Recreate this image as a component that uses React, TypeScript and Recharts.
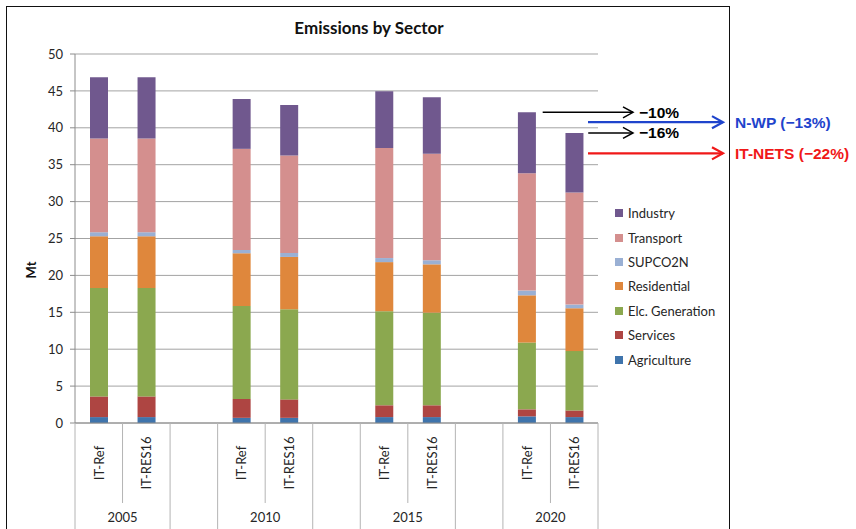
import React from 'react';
import { BarChart, Bar, XAxis, YAxis, CartesianGrid, ReferenceLine } from 'recharts';

// ---------- data ----------
const years = ['2005', '2010', '2015', '2020'];
const scenarios = ['IT-Ref', 'IT-RES16'];
// order of values: 2005 IT-Ref, 2005 IT-RES16, 2010 IT-Ref, 2010 IT-RES16, 2015 ..., 2020 ...
const agriculture = [0.8, 0.8, 0.7, 0.7, 0.8, 0.8, 0.9, 0.8];
const services = [2.8, 2.8, 2.55, 2.5, 1.6, 1.6, 0.95, 0.9];
const elcGeneration = [14.7, 14.7, 12.6, 12.2, 12.75, 12.55, 9.05, 8.05];
const residential = [7.0, 7.0, 7.15, 7.1, 6.65, 6.55, 6.4, 5.8];
const supco2n = [0.55, 0.55, 0.45, 0.55, 0.55, 0.55, 0.65, 0.5];
const transport = [12.7, 12.7, 13.7, 13.2, 14.9, 14.45, 15.9, 15.2];
const industry = [8.3, 8.3, 6.75, 6.85, 7.7, 7.65, 8.25, 8.05];
const yTicks = [0, 5, 10, 15, 20, 25, 30, 35, 40, 45, 50];
const targetNames = ['N-WP', 'IT-NETS'];
const targetPcts = [-13, -22];

const sectorNames = ['Agriculture', 'Services', 'Elc. Generation', 'Residential', 'SUPCO2N', 'Transport', 'Industry'];
const sectorValues = [agriculture, services, elcGeneration, residential, supco2n, transport, industry];

// ---------- styles ----------
const sectorColors = ['#3f74ac', '#ae4542', '#8ba84f', '#df873c', '#9ab0d4', '#d48f8e', '#70588e'];
const targetColors = ['#1f44cc', '#f01818'];
const FONT = 'Lato, "Noto Sans", sans-serif';
const ARIAL = '"Liberation Sans", Arial, sans-serif';

const W = 856;
const H = 529;
const M = { top: 54, right: 258, bottom: 0, left: 15 };
const YW = 60;
const XH = 106;
const BAR = 18;

// ---------- table ----------
const rows: any[] = [];
years.forEach((yr, g) => {
  if (g > 0) rows.push({ key: `gap-${yr}`, label: '', year: '', s: -1 });
  scenarios.forEach((sc, s) => {
    const i = g * scenarios.length + s;
    const row: any = { key: `${yr}-${sc}`, label: sc, year: yr, s };
    sectorNames.forEach((n, k) => (row[n] = sectorValues[k][i]));
    rows.push(row);
  });
});
const totals = agriculture.map((_, i) => sectorValues.reduce((a, arr) => a + arr[i], 0));
const base = totals[0];

const PLOT_LEFT = M.left + YW;
const PLOT_RIGHT = W - M.right;
const PLOT_BOTTOM = H - M.bottom - XH;
const SLOT = (PLOT_RIGHT - PLOT_LEFT) / rows.length;

const XTick = (props: any) => {
  const { x, index } = props;
  const row = rows[index];
  if (!row) return null;
  const half = SLOT / 2;
  const sep = '#b4b4b4';
  return (
    <g>
      <line x1={x - half} x2={x - half} y1={PLOT_BOTTOM} y2={row.s === 1 ? 503 : H + 10} stroke={sep} strokeWidth={1} />
      {index === rows.length - 1 && (
        <line x1={x + half} x2={x + half} y1={PLOT_BOTTOM} y2={H + 10} stroke={sep} strokeWidth={1} />
      )}
      {row.label && (
        <text
          x={x}
          y={463}
          transform={`rotate(-90 ${x} 463)`}
          textAnchor="middle"
          dominantBaseline="central"
          fontFamily={FONT}
          fontSize={13}
          fill="#262626"
        >
          {row.label}
        </text>
      )}
      {row.s === 0 && (
        <text x={x + half} y={517} textAnchor="middle" dominantBaseline="central" fontFamily={FONT} fontSize={13} fill="#262626">
          {row.year}
        </text>
      )}
    </g>
  );
};

const makeArrow = (startOff: number, endOff: number, color: string, sw: number, text: string, head: number) => (p: any) => {
  const right = Math.max(p.x1, p.x2);
  const y = p.y1;
  const xs = right + startOff;
  const xe = right + endOff;
  return (
    <g>
      <line x1={xs} x2={xe} y1={y} y2={y} stroke={color} strokeWidth={sw} />
      <polyline
        points={`${xe - head},${y - head * 0.55} ${xe},${y} ${xe - head},${y + head * 0.55}`}
        fill="none"
        stroke={color}
        strokeWidth={sw}
      />
      <text x={xe + (color === '#000' ? 6 : 12)} y={y} dominantBaseline="central" fontFamily={ARIAL} fontWeight="bold" fontSize={15.5} fill={color}>
        {text}
      </text>
    </g>
  );
};

const pctText = (v: number) => `\u2212${Math.abs(Math.round(v))}%`;
const scen2020 = [6, 7];
const scenArrowStart = [-1.5 * SLOT + BAR / 2 + 7, -0.5 * SLOT + BAR / 2 + 5];

export default function App() {
  return (
    <div style={{ position: 'fixed', left: 0, top: 0, width: W, height: H, overflow: 'hidden', background: '#fff' }}>
      <div
        style={{
          position: 'absolute',
          left: 6,
          top: 6,
          width: 724,
          height: 600,
          border: '1.5px solid #111',
          boxSizing: 'border-box',
        }}
      />
      <div
        style={{
          position: 'absolute',
          left: 369,
          top: 27,
          transform: 'translate(-50%, -50%)',
          fontFamily: FONT,
          fontWeight: 'bold',
          fontSize: 17,
          whiteSpace: 'nowrap',
          color: '#111',
        }}
      >
        Emissions by Sector
      </div>
      <div
        style={{
          position: 'absolute',
          left: 31,
          top: 270,
          transform: 'translate(-50%, -50%) rotate(-90deg)',
          fontFamily: FONT,
          fontWeight: 'bold',
          fontSize: 13,
          color: '#111',
        }}
      >
        Mt
      </div>
      <div style={{ position: 'absolute', left: 615, top: 201 }}>
        {sectorNames
          .map((n, k) => ({ n, c: sectorColors[k] }))
          .reverse()
          .map((it) => (
            <div key={it.n} style={{ display: 'flex', alignItems: 'center', height: 24.4, fontFamily: FONT, fontSize: 13, color: '#262626' }}>
              <span style={{ display: 'inline-block', width: 8, height: 8, background: it.c, marginRight: 5 }} />
              {it.n}
            </div>
          ))}
      </div>
      <div style={{ position: 'absolute', left: 0, top: 0 }}>
        <BarChart width={W} height={H} data={rows} margin={M} barSize={BAR}>
          <CartesianGrid horizontal vertical={false} stroke="#a3a3a3" strokeWidth={1} />
          <XAxis
            dataKey="key"
            height={XH}
            interval={0}
            tickLine={false}
            axisLine={{ stroke: '#8c8c8c' }}
            tick={<XTick />}
          />
          <YAxis
            width={YW}
            domain={[0, 50]}
            ticks={yTicks}
            tickSize={5}
            tickMargin={7}
            axisLine={{ stroke: '#8c8c8c' }}
            tickLine={{ stroke: '#8c8c8c' }}
            tick={{ fontFamily: FONT, fontSize: 13, fill: '#262626' }}
          />
          <YAxis yAxisId="r" orientation="right" width={0} tick={false} tickLine={false} axisLine={{ stroke: '#a3a3a3' }} />
          {sectorNames.map((n, k) => (
            <Bar key={n} dataKey={n} stackId="a" fill={sectorColors[k]} isAnimationActive={false} />
          ))}
          {scen2020.map((i, j) => (
            <ReferenceLine
              key={`s${i}`}
              y={totals[i]}
              ifOverflow="visible"
              shape={makeArrow(scenArrowStart[j], 35, '#000', 1.5, pctText((totals[i] / base - 1) * 100), 10)}
            />
          ))}
          {targetNames.map((n, j) => (
            <ReferenceLine
              key={n}
              y={base * (1 + targetPcts[j] / 100)}
              ifOverflow="visible"
              shape={makeArrow(-10, 125, targetColors[j], 2.2, `${n} (${pctText(targetPcts[j])})`, 11)}
            />
          ))}
        </BarChart>
      </div>
    </div>
  );
}
